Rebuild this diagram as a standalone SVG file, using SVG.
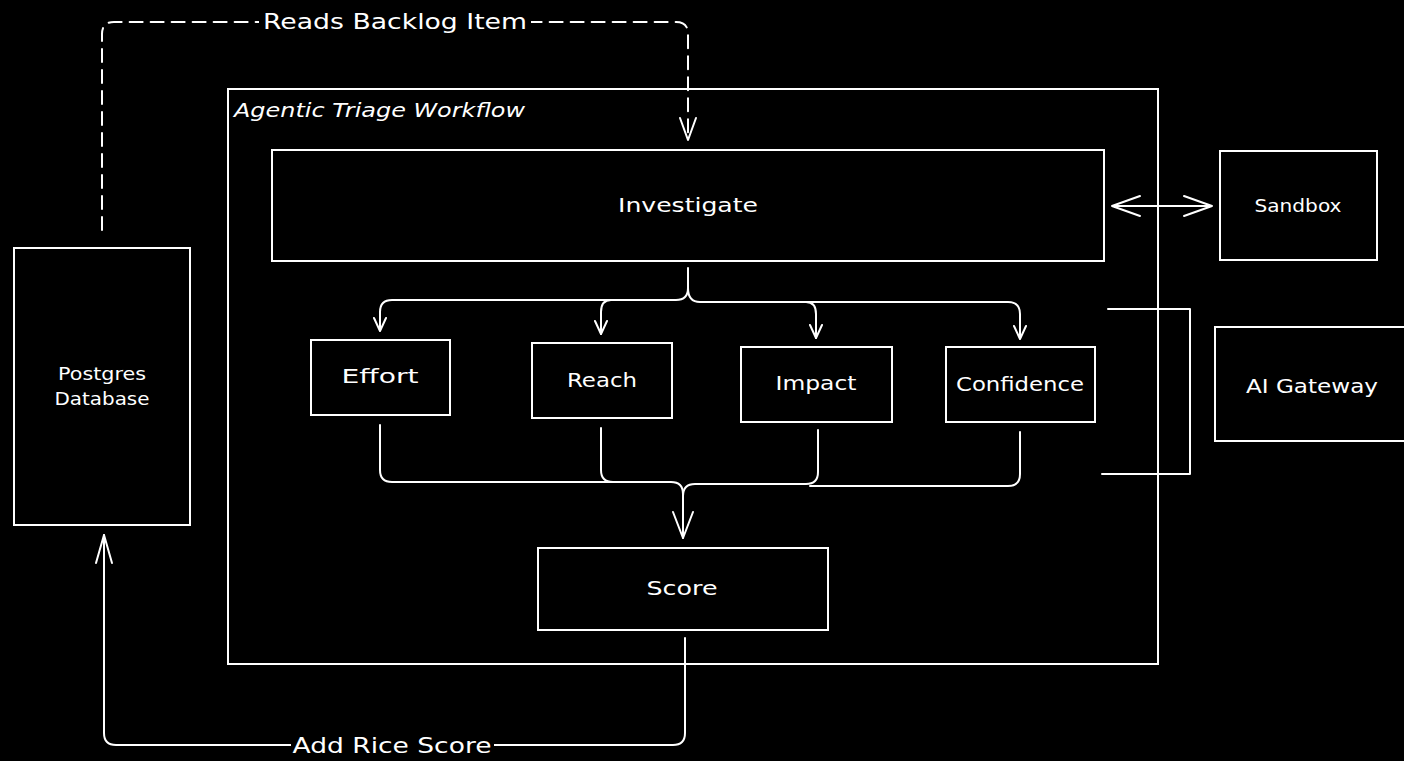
<svg xmlns="http://www.w3.org/2000/svg" width="1404" height="761" viewBox="0 0 1404 761">
<style>
  .box{fill:#000;stroke:#fff;stroke-width:2}
  .ln{fill:none;stroke:#fff;stroke-width:2;stroke-linecap:round;stroke-linejoin:round}
  .dash{stroke-dasharray:13 8}
  text{fill:#fff;font-family:"DejaVu Sans","Open Sans",sans-serif;text-anchor:middle;dominant-baseline:central}
  .lbl{font-size:20px}
  .sm{font-size:17px}
</style>
<rect x="0" y="0" width="1404" height="761" fill="#000"/>
<g id="workflow">
  <rect class="box" x="228" y="89" width="930" height="575"/>
  <text x="234" y="110" style="text-anchor:start;font-size:20px;font-style:italic" textLength="291" lengthAdjust="spacingAndGlyphs">Agentic Triage Workflow</text>
</g>
<g id="investigate"><rect class="box" x="272" y="150" width="832" height="111"/><text class="lbl" x="688" y="205" textLength="140" lengthAdjust="spacingAndGlyphs">Investigate</text></g>
<g id="sandbox"><rect class="box" x="1220" y="151" width="157" height="109"/><text class="sm" x="1298" y="206" textLength="87" lengthAdjust="spacingAndGlyphs">Sandbox</text></g>
<g id="aigateway"><rect class="box" x="1215" y="327" width="200" height="114"/><text class="lbl" x="1312" y="386" textLength="132" lengthAdjust="spacingAndGlyphs">AI Gateway</text></g>
<g id="postgres"><rect class="box" x="14" y="248" width="176" height="277"/><text class="sm" x="102" y="374" textLength="88" lengthAdjust="spacingAndGlyphs">Postgres</text><text class="sm" x="102" y="399" textLength="95" lengthAdjust="spacingAndGlyphs">Database</text></g>
<g id="effort"><rect class="box" x="311" y="340" width="139" height="75"/><text class="lbl" x="380" y="376" textLength="77" lengthAdjust="spacingAndGlyphs">Effort</text></g>
<g id="reach"><rect class="box" x="532" y="343" width="140" height="75"/><text class="lbl" x="602" y="380" textLength="70" lengthAdjust="spacingAndGlyphs">Reach</text></g>
<g id="impact"><rect class="box" x="741" y="347" width="151" height="75"/><text class="lbl" x="816" y="383" textLength="81" lengthAdjust="spacingAndGlyphs">Impact</text></g>
<g id="confidence"><rect class="box" x="946" y="347" width="149" height="75"/><text class="lbl" x="1020" y="384" textLength="128" lengthAdjust="spacingAndGlyphs">Confidence</text></g>
<g id="score"><rect class="box" x="538" y="548" width="290" height="82"/><text class="lbl" x="682" y="588" textLength="71" lengthAdjust="spacingAndGlyphs">Score</text></g>
<g id="connectors">
  <path class="ln dash" d="M102,230 V34 Q102,22 114,22 H676 Q688,22 688,34 V140"/>
  <path class="ln" d="M680,118 L688,140 L696,118"/>
  <rect x="259" y="8" width="272" height="28" fill="#000"/>
  <text x="395" y="21" style="font-size:22px" textLength="264" lengthAdjust="spacingAndGlyphs">Reads Backlog Item</text>
  <path class="ln" d="M1112,206 H1212 M1140,196 L1112,206 L1140,216 M1184,196 L1212,206 L1184,216"/>
  <path class="ln" d="M1108,309 H1190 V474 H1102"/>
  <path class="ln" d="M688,268 V288 Q688,300 676,300 H392 Q380,300 380,312 V330"/>
  <path class="ln" d="M688,288 Q688,302 700,302 H1008 Q1020,302 1020,314 V338"/>
  <path class="ln" d="M611,300 Q601,300 601,312 V334"/>
  <path class="ln" d="M806,302 Q816,302 816,314 V338"/>
  <path class="ln" d="M374,318 L380,331 L386,318 M595,321 L601,334 L607,321 M810,325 L816,338 L822,325 M1014,326 L1020,339 L1026,326"/>
  <path class="ln" d="M380,425 V470 Q380,482 392,482 H671 Q683,482 683,494 V538"/>
  <path class="ln" d="M601,428 V470 Q601,482 613,482"/>
  <path class="ln" d="M818,430 V472 Q818,484 806,484 H695 Q683,484 683,496"/>
  <path class="ln" d="M1020,432 V474 Q1020,486 1008,486 H810"/>
  <path class="ln" d="M673,512 L683,538 L693,512"/>
  <path class="ln" d="M685,638 V733 Q685,745 673,745 H116 Q104,745 104,733 V535"/>
  <path class="ln" d="M96,563 L104,535 L112,563"/>
  <rect x="291" y="732" width="203" height="26" fill="#000"/>
  <text x="392" y="745" style="font-size:22px" textLength="199" lengthAdjust="spacingAndGlyphs">Add Rice Score</text>
</g>
</svg>
